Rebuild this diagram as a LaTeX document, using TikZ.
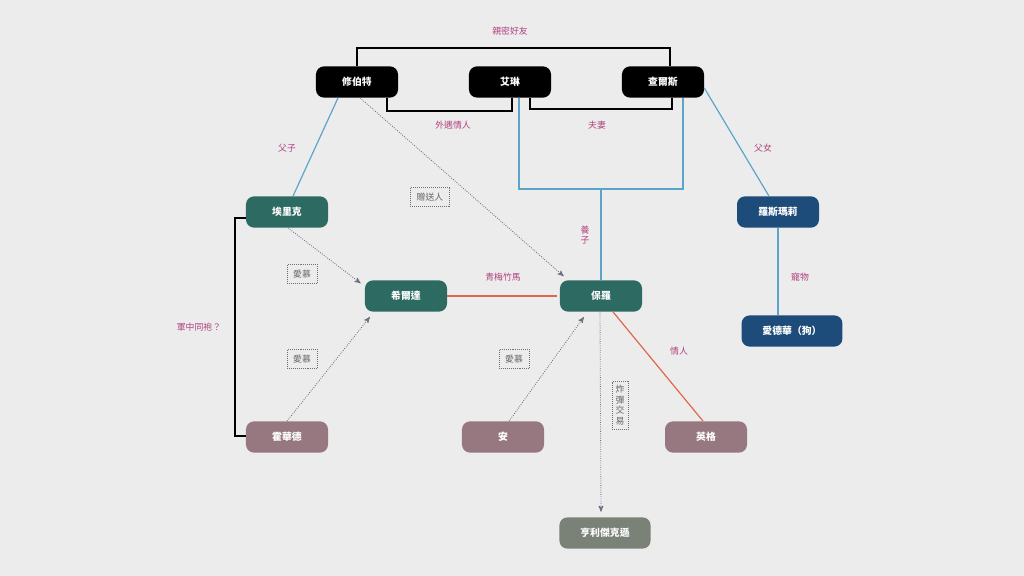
\documentclass[tikz,border=0pt]{standalone}
\usepackage{fontspec}
\setmainfont{Noto Sans CJK TC}
\usepackage{tikz}
\usetikzlibrary{arrows,calc}

\definecolor{bg}{HTML}{ECECEC}
\definecolor{labelpink}{HTML}{B0417F}
\definecolor{teal}{HTML}{2D6A62}
\definecolor{navy}{HTML}{1E4C7A}
\definecolor{mauve}{HTML}{977880}
\definecolor{sage}{HTML}{7A8177}
\definecolor{kinblue}{HTML}{5BA5CB}
\definecolor{lovered}{HTML}{E0674C}
\definecolor{dotgray}{HTML}{6B6F82}

\begin{document}
\begin{tikzpicture}[x=0.025cm,y=-0.025cm,>=stealth',
  person/.style={rectangle,rounded corners=0.2cm,minimum width=2.05cm,minimum height=0.78cm,
    text=white,font=\fontsize{7}{8}\selectfont\bfseries,inner sep=0pt},
  top node/.style={person,fill=black},
  green node/.style={person,fill=teal},
  blue node/.style={person,fill=navy},
  pink node/.style={person,fill=mauve},
  grey node/.style={person,fill=sage},
  rel/.style={text=labelpink,font=\fontsize{6.3}{7.5}\selectfont},
  tag/.style={draw=dotgray,densely dotted,text=black!60,font=\fontsize{6.3}{7.5}\selectfont,
    inner xsep=4.5pt,inner ysep=4pt,align=center},
  friend/.style={draw=black,line width=1.2pt},
  kin/.style={draw=kinblue,line width=0.85pt},
  love/.style={draw=lovered,line width=0.85pt},
  crush/.style={draw=dotgray,densely dotted,line width=0.6pt,->,shorten >=1pt}]

  \fill[bg] (0,0) rectangle (1024,576);
  \useasboundingbox (0,0) rectangle (1024,576);

  \node[top node] (hub) at (357,82) {修伯特};
  \node[top node] (ire) at (510,82) {艾琳};
  \node[top node] (cha) at (663,82) {查爾斯};
  \node[green node] (eri) at (287,212) {埃里克};
  \node[green node] (hil) at (406,296) {希爾達};
  \node[green node] (pau) at (601,296) {保羅};
  \node[blue node] (ros) at (778,212) {羅斯瑪莉};
  \node[blue node,minimum width=2.52cm] (edw) at (792,331) {愛德華（狗）};
  \node[pink node] (how) at (287,437) {霍華德};
  \node[pink node] (ann) at (503,437) {安};
  \node[pink node] (ing) at (706,437) {英格};
  \node[grey node,minimum width=2.28cm] (hen) at (605,533) {亨利傑克遜};

  \coordinate (mid) at (601,189);

  % black brackets
  \draw[friend] (hub.north) -- ++(0,-18) -| ($(cha.north)+(7,0)$);
  \draw[friend] ($(hub.south)+(30,0)$) -- ++(0,13) -| ($(ire.south)+(2,0)$);
  \draw[friend] ($(ire.south)+(20,0)$) -- ++(0,11) -| ($(cha.south)+(9,0)$);
  \draw[friend] ($(eri.west)+(0,6)$) -- ++(-11,0) |- ($(how.west)+(0,-1)$);

  % family
  \draw[kin] ($(ire.south)+(9,0)$) |- (mid) -| ($(cha.south)+(20,0)$);
  \draw[kin] (mid) -- (pau.north);
  \draw[kin] ($(hub.south)+(-19,0)$) -- ($(eri.north)+(6,0)$);
  \draw[kin] ($(cha.east)+(0,6)$) -- ($(ros.north)+(-9,0)$);
  \draw[kin] (ros.south) -- ($(edw.north)+(-14,0)$);

  % lovers
  \draw[love] (hil.east) -- ($(pau.west)+(-3,0)$);
  \draw[love] ($(pau.south)+(12,0)$) -- ($(ing.north)+(-3,0)$);

  % dotted arrows
  \draw[crush] ($(hub.south)+(3,0)$) -- ($(pau.north west)+(5,-3)$);
  \draw[crush] ($(eri.south)+(1,0)$) -- ($(hil.north west)+(-3,4)$);
  \draw[crush] (how.north) -- ($(hil.south west)+(6,4)$);
  \draw[crush] ($(ann.north)+(6,0)$) -- ($(pau.south west)+(25,4)$);
  \draw[crush] ($(pau.south)+(-1,0)$) -- ($(hen.north)+(-4,-4)$);

  % labels
  \node[rel] (l1) at (510,31) {親密好友};
  \node[rel] (l2) at (453,125) {外遇情人};
  \node[rel] (l3) at (597,125) {夫妻};
  \node[rel] (l4) at (287,148) {父子};
  \node[rel] (l5) at (763,148) {父女};
  \node[rel,align=center,inner sep=0pt] (l6) at (585,235) {養\\子};
  \node[rel] (l7) at (503,277) {青梅竹馬};
  \node[rel] (l8) at (800,277) {寵物};
  \node[rel] (l9) at (199,327) {軍中同袍？};
  \node[rel] (l10) at (679,351) {情人};

  \node[tag] (t1) at (430,197) {贈送人};
  \node[tag] (t2) at (302,274) {愛慕};
  \node[tag] (t3) at (302,359) {愛慕};
  \node[tag] (t4) at (514,359) {愛慕};
  \node[tag,inner xsep=2.5pt,inner ysep=3pt] (t5) at (620,405) {炸\\彈\\交\\易};
\end{tikzpicture}
\end{document}
